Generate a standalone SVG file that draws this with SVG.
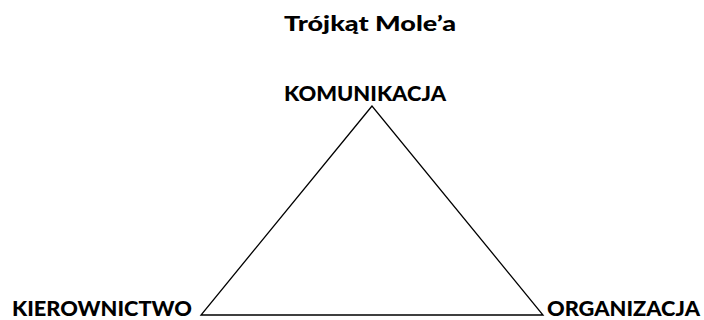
<svg xmlns="http://www.w3.org/2000/svg" width="704" height="320" viewBox="0 0 704 320">
<style>
.t{font-family:Lato,"Open Sans","Liberation Sans",sans-serif;font-weight:900;fill:#000;font-size:20px}
.b{font-size:21px}
.edge{fill:none;stroke:#000;stroke-width:1.3}
</style>
<rect width="704" height="320" fill="#fff"/>
<text class="t" x="284" y="31" textLength="172" lengthAdjust="spacingAndGlyphs">Trójkąt Mole’a</text>
<g id="connectors">
<polygon class="edge" points="372,106 201,315 543,315"/>
</g>
<g id="komunikacja"><text class="t" x="284" y="101" textLength="162" lengthAdjust="spacingAndGlyphs">KOMUNIKACJA</text></g>
<g id="kierownictwo"><text class="t b" x="12" y="316" textLength="180" lengthAdjust="spacingAndGlyphs">KIEROWNICTWO</text></g>
<g id="organizacja"><text class="t b" x="547" y="316" textLength="153" lengthAdjust="spacingAndGlyphs">ORGANIZACJA</text></g>
</svg>
